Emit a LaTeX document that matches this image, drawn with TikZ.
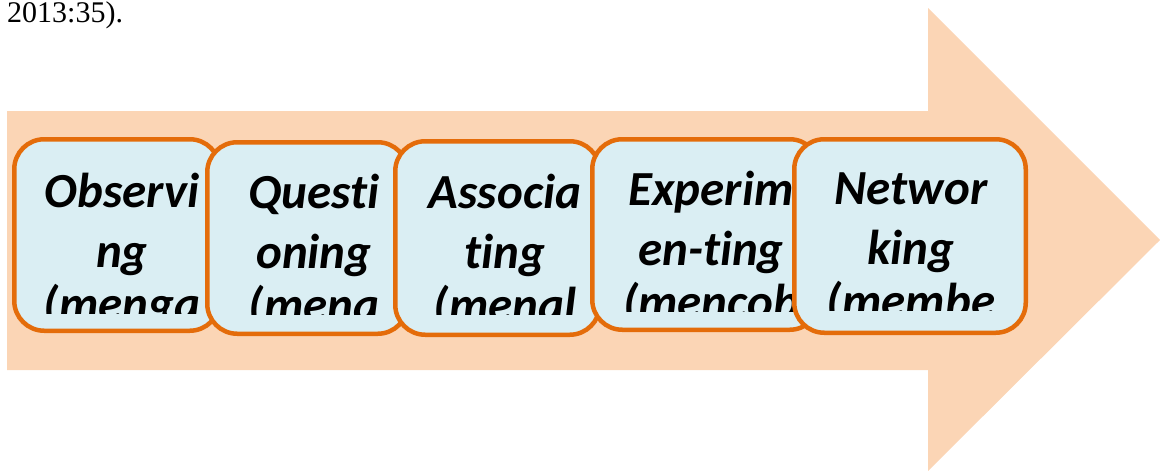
\documentclass[tikz,border=0pt]{standalone}
\usepackage{fontspec}
\setmainfont{Liberation Serif}
\newfontfamily\stagefont{Carlito}[Ligatures=NoCommon, Contextuals=NoAlternate]
\definecolor{arrowfill}{HTML}{FBD5B5}
\definecolor{boxfill}{HTML}{DAEEF3}
\definecolor{boxline}{HTML}{E46C0A}
\tikzset{
  stagebox/.style={draw=boxline, fill=boxfill, line width=4.5pt, rounded corners=30pt, inner sep=0pt},
  stagetext/.style={anchor=base, inner sep=0pt, font=\stagefont\bfseries\itshape\fontsize{49}{59}\selectfont}
}

\begin{document}
\begin{tikzpicture}[x=1pt,y=-1pt]
\useasboundingbox (0,0) rectangle (1160,471);
% big arrow
\fill [arrowfill] (7,111) -- (928,111) -- (928,8) -- (1160,240) -- (928,471) -- (928,370) -- (7,370) -- cycle;
\node [anchor=base west, inner sep=0pt, font=\fontsize{30}{34}\selectfont] (cite) at (7,22) {2013:35).};
% stages, each one over the last
\foreach \name/\xa/\ya/\xb/\yb/\cx/\bl/\la/\lb/\lc in {
    obs/12/137/222/333/122/207/Observi/ng/menga,
    que/205/140/410/336/314/208/Questi/oning/mena,
    aso/393/139/602/337/505/208/Associa/ting/menal,
    exp/590/137/822/332/711/205/Experim/en-ting/mencob,
    net/792/137/1028/335/911/204/Networ/king/membe}
{
  \node [stagebox, minimum width={(\xb-\xa)*1pt-4.5pt}, minimum height={(\yb-\ya)*1pt-4.5pt}]
    (\name) at ({(\xa+\xb)/2},{(\ya+\yb)/2}) {};
  \begin{scope}
    \clip (\xa,\ya) rectangle (\xb,{\bl+106});
    \node [stagetext] (\name-a) at (\cx,\bl) {\la};
    \node [stagetext] (\name-b) at (\cx,{\bl+60}) {\lb};
    \node [stagetext] (\name-c) at (\cx,{\bl+113}) {(\lc};
  \end{scope}
}
\end{tikzpicture}
\end{document}
